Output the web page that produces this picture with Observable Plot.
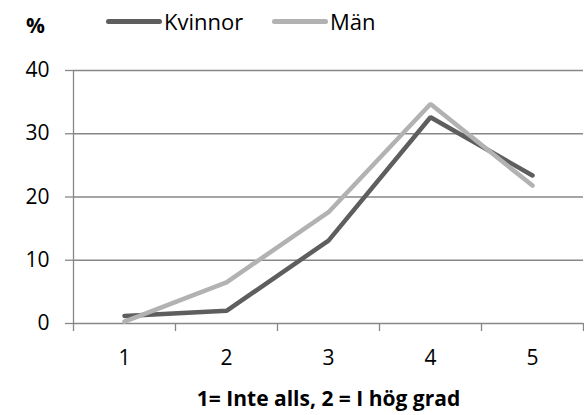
<!DOCTYPE html>
<html>
<head>
<meta charset="utf-8">
<script src="https://cdn.jsdelivr.net/npm/d3@7"></script>
<script src="https://cdn.jsdelivr.net/npm/@observablehq/plot@0.6"></script>
<style>
  body { margin: 0; background: #fff; font-family: "Open Sans", sans-serif; }
  #wrap { position: relative; width: 584px; height: 415px; }
  #legend { position: relative; height: 45px; width: 584px; font-size: 22px; color: #000; }
  #legend .pct { position: absolute; left: 26px; top: 11px; font-weight: bold; font-size: 21px; }
  #legend .item { position: absolute; top: 6px; display: flex; align-items: center; line-height: 30px; }
  #legend .sw { width: 56px; height: 5px; border-radius: 3px; margin-right: 2px; }
  svg { display: block; }
</style>
</head>
<body>
<div id="wrap">
  <div id="legend"></div>
  <div id="chart"></div>
</div>
<script>
const categories = [1, 2, 3, 4, 5];
const kvinnor = [1.2, 2.0, 13.1, 32.6, 23.4];
const man = [0.3, 6.5, 17.6, 34.7, 21.8];
const seriesNames = ["Kvinnor", "Män"];
const seriesColors = ["#5e5e5e", "#b2b2b2"];
const yTicks = [0, 10, 20, 30, 40];
const xTitle = "1= Inte alls, 2 = I hög grad";
const yTitle = "%";

const data = [];
categories.forEach((c, i) => {
  data.push({x: c, y: kvinnor[i], s: seriesNames[0]});
  data.push({x: c, y: man[i], s: seriesNames[1]});
});
const boundaries = categories.map(c => c - 0.5).concat([categories[categories.length - 1] + 0.5]);

// Legend (HTML above the SVG)
const legend = document.getElementById("legend");
const pct = document.createElement("span");
pct.className = "pct"; pct.textContent = yTitle;
legend.appendChild(pct);
const lefts = [106, 272];
seriesNames.forEach((n, i) => {
  const it = document.createElement("div");
  it.className = "item";
  it.style.left = lefts[i] + "px";
  const sw = document.createElement("div");
  sw.className = "sw"; sw.style.background = seriesColors[i];
  const t = document.createElement("span"); t.textContent = n;
  it.appendChild(sw); it.appendChild(t);
  legend.appendChild(it);
});

const chart = Plot.plot({
  width: 584,
  height: 370,
  marginTop: 25,
  marginBottom: 92,
  marginLeft: 73,
  marginRight: 1,
  style: { fontFamily: "Open Sans, sans-serif", fontSize: "21px", color: "#000", background: "#fff" },
  x: { type: "linear", domain: [0.5, 5.5], axis: null },
  y: { domain: [0, 40], axis: null },
  color: { domain: seriesNames, range: seriesColors },
  marks: [
    Plot.ruleY(yTicks, { x1: 0.5, x2: 5.5, stroke: "#878787", strokeWidth: 1.3 }),
    Plot.axisY(yTicks, { ticks: yTicks, tickSize: 8, tickPadding: 16, stroke: "#878787", strokeWidth: 1.3, fontSize: 21, fill: "#000", label: null }),
    Plot.ruleX([0.5], { y1: 0, y2: 40, stroke: "#878787", strokeWidth: 1.3 }),
    Plot.axisX(boundaries, { ticks: boundaries, tickSize: 8, tickFormat: () => "", stroke: "#878787", strokeWidth: 1.3, label: null }),
    Plot.axisX(categories, { ticks: categories, tickSize: 0, tickPadding: 27, fontSize: 21, fill: "#000", label: null, tickFormat: d => String(d) }),
    Plot.axisX({ ticks: [], label: xTitle, labelAnchor: "center", labelArrow: "none", labelOffset: 82, fontSize: 21, fontWeight: "bold", fill: "#000" }),
    Plot.lineY(data, { x: "x", y: "y", z: "s", stroke: "s", strokeWidth: 4.5, strokeLinejoin: "miter", strokeLinecap: "round" })
  ]
});
document.getElementById("chart").appendChild(chart);
</script>
</body>
</html>
